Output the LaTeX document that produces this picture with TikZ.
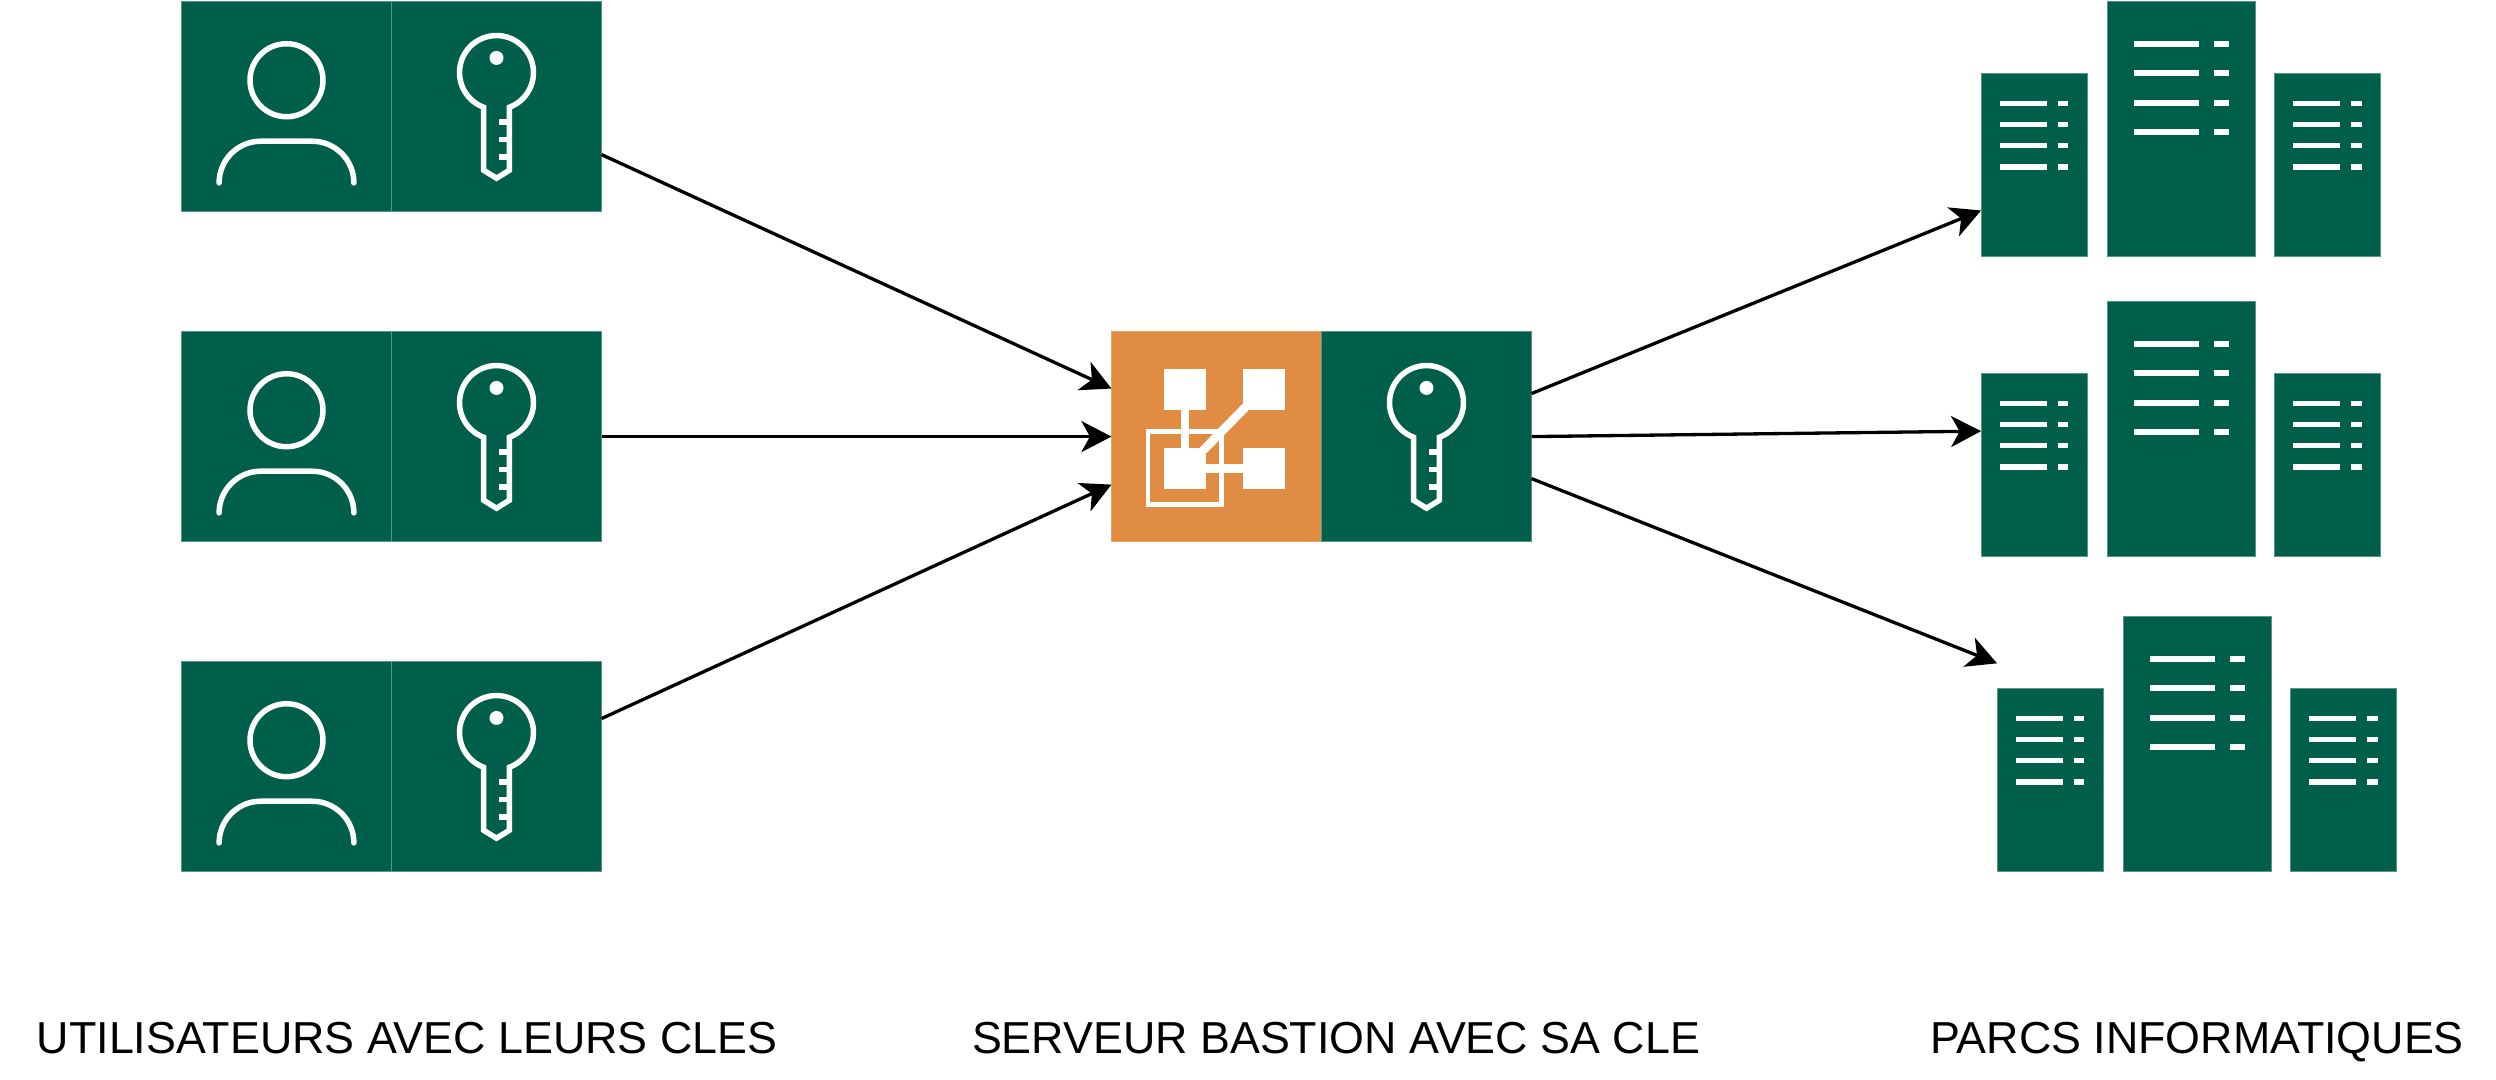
\documentclass[tikz,border=0pt]{standalone}
\usepackage{xcolor,tikz,fontspec}
\usetikzlibrary{arrows.meta,positioning,calc}
\setmainfont{Liberation Sans}
\definecolor{sage}{RGB}{0,95,75}
\definecolor{sageedge}{RGB}{90,150,135}
\definecolor{amber}{RGB}{224,140,66}
\tikzset{
  arr/.style={-{Stealth[length=.3cm,width=.31cm,inset=.085cm]},line width=.033cm,draw=black},
  tile/.style={draw=sageedge,fill=sage,line width=.01cm,minimum size=2.1cm,inner sep=0pt,outer sep=0pt},
  hub/.style={tile,draw=amber!80,fill=amber},
  rack/.style={draw=sageedge,fill=sage,line width=.01cm,inner sep=0pt,outer sep=0pt,minimum width=1.065cm,minimum height=1.835cm},
  rackbig/.style={rack,minimum width=1.48cm,minimum height=2.55cm},
  lab/.style={font=\fontsize{12.74pt}{15pt}\selectfont,text=black,inner sep=0pt,anchor=base},
  ink/.style={draw=white,line width=.055cm},
  person/.pic={
    \draw[ink] (0,-78.7) circle[radius=36.5];
    \draw[ink,line cap=round] (-67.4,-181.4) arc[start angle=180,end angle=90,radius=41.7]
      -- (25.7,-139.7) arc[start angle=90,end angle=0,radius=41.7];
  },
  keyicon/.pic={
    \draw[ink,line join=miter] (-12.9,-105.7) arc[start angle=249.6,end angle=-69.6,radius=37]
      -- (12.9,-168.7) -- (0,-176.7) -- (-12.9,-168.7) -- cycle;
    \fill[white] (0,-56.4) circle[radius=7];
    \foreach \ty in {-120.4,-138,-155.4}
      \draw[ink] (2.6,\ty) -- (12.9,\ty);
  },
  lowrack/.pic={
    \foreach \ty in {-30,-51.3,-72.3,-93.7} {
      \draw[ink] (-34.2,\ty) -- (12.5,\ty);
      \draw[ink] (23.3,\ty) -- (34,\ty);
    }
  },
  highrack/.pic={
    \foreach \ty in {-42,-71.3,-101,-130.3} {
      \draw[ink] (-47,\ty) -- (17.3,\ty);
      \draw[ink] (32.3,\ty) -- (47.3,\ty);
    }
  }
}

\begin{document}
\begin{tikzpicture}[x=.01cm,y=.01cm]
  \useasboundingbox (0,.6) rectangle (2496,-1079.4);
  % users
  \foreach \id/\ty in {1/106,2/436,3/766} {
    \node[tile] (person\id) at (286.5,-\ty) {};
    \node[tile] (pkey\id) at (496.5,-\ty) {};
    \pic at (person\id.north) {person};
    \pic at (pkey\id.north) {keyicon};
  }
  % bastion
  \node[hub] (hub) at (1216.5,-436) {};
  \node[tile] (hubkey) at (1426.5,-436) {};
  \pic at (hubkey.north) {keyicon};
  \begin{scope}[shift={(hub.north west)}]
    \draw[ink,line width=.087cm] (73.6,-60) -- (73.6,-130);
    \draw[ink,line width=.087cm] (90,-137) -- (150,-137);
    \draw[ink,line width=.087cm] (134.3,-75.3) -- (91.3,-119.3);
    \draw[ink,line width=.043cm] (36.8,-100) rectangle (110,-173);
    \fill[white] (52.7,-37) rectangle (94.7,-78.7);
    \fill[white] (131.3,-37) rectangle (173.3,-78.7);
    \fill[white] (52.7,-116) rectangle (94.7,-157.7);
    \fill[white] (131.3,-116) rectangle (173.3,-157.7);
  \end{scope}
  % server groups
  \foreach \id/\ox/\oy in {a/0/0,b/0/300,c/16/615} {
    \node[rackbig] (mid\id) at (2181.3+\ox,-128.8-\oy) {};
    \node[rack,left=.196cm of mid\id.south west,anchor=south east] (left\id) {};
    \node[rack,right=.19cm of mid\id.south east,anchor=south west] (right\id) {};
    \pic at (mid\id.north) {highrack};
    \pic at (left\id.north) {lowrack};
    \pic at (right\id.north) {lowrack};
  }
  % connectors
  \draw[arr] ([yshift=-.48cm]pkey1.east) -- ([yshift=.48cm]hub.west);
  \draw[arr] (pkey2.east) -- (hub.west);
  \draw[arr] ([yshift=.48cm]pkey3.east) -- ([yshift=-.48cm]hub.west);
  \draw[arr] ([yshift=.43cm]hubkey.east) -- ([yshift=-.453cm]lefta.west);
  \draw[arr] (hubkey.east) -- ([yshift=.34cm]leftb.west);
  \draw[arr] ([yshift=-.42cm]hubkey.east) -- ([yshift=.25cm]leftc.north west);
  % captions
  \node[lab] (usercap) at (407,-1053) {UTILISATEURS AVEC LEURS CLES};
  \node[lab] (hubcap) at (1336,-1053) {SERVEUR BASTION AVEC SA CLE};
  \node[lab] (parkcap) at (2197,-1053) {PARCS INFORMATIQUES};
\end{tikzpicture}
\end{document}
